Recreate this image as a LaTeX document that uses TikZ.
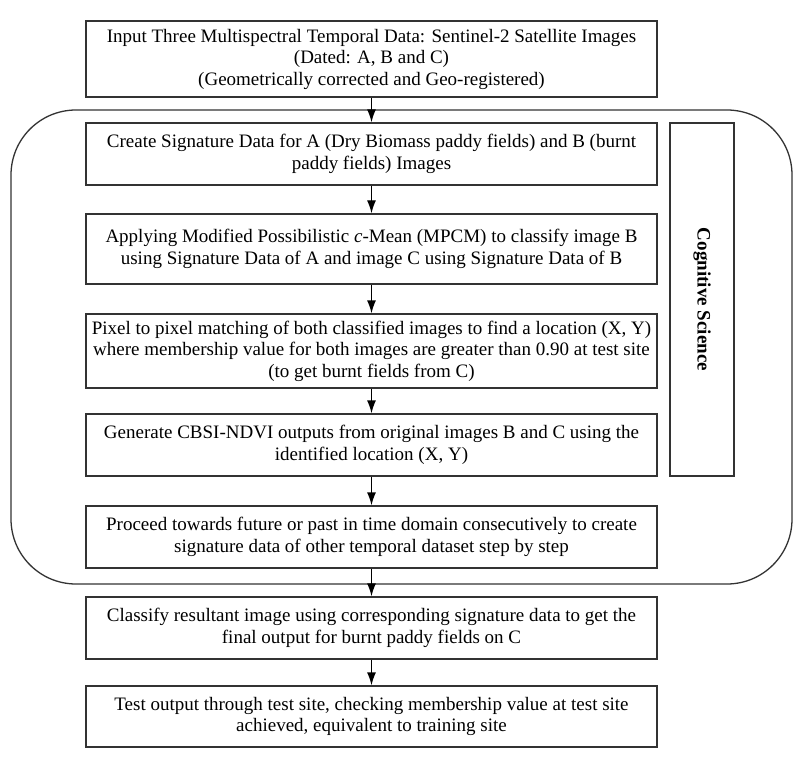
\documentclass[tikz,border=0pt]{standalone}
\usepackage{fontspec}
\setmainfont{Liberation Serif}
\usetikzlibrary{positioning}
\usetikzlibrary{arrows.meta,shapes}
\tikzstyle{stepbox}=[rectangle,draw=black!80,line width=1.3pt,minimum width=571pt,inner sep=0pt,align=center,font=\fontsize{19}{21.5}\selectfont]
\tikzstyle{sidebox}=[rectangle,draw=black!80,line width=1.3pt,minimum width=64pt,minimum height=353pt,inner sep=0pt]
\tikzstyle{edge} = [draw,line width=1.3pt,-{Latex[length=13pt,width=9pt]}]

\begin{document}
\begin{tikzpicture}[x=1pt,y=-1pt]
    \useasboundingbox (0,0) rectangle (800,767);
    % the rounded frame round the cognitive part
    \draw[draw=black!80, line width=1.3pt, rounded corners=65pt] (11,110) rectangle (792,584);

    % First we draw the steps
    \node[stepbox, minimum height=76pt] (input) at (371.5,59) {Input Three Multispectral Temporal Data: Sentinel-2 Satellite Images\\(Dated: A, B and C)\\(Geometrically corrected and Geo-registered)};
    \node[stepbox, minimum height=62pt] (signature) at (371.5,154) {Create Signature Data for A (Dry Biomass paddy fields) and B (burnt\\paddy fields) Images};
    \node[stepbox, minimum height=70pt] (mpcm) at (371.5,249) {Applying Modified Possibilistic \textit{c}-Mean (MPCM) to classify image B\\using Signature Data of A and image C using Signature Data of B};
    \node[stepbox, minimum height=74pt] (matching) at (371.5,351) {Pixel to pixel matching of both classified images to find a location (X, Y)\\where membership value for both images are greater than 0.90 at test site\\(to get burnt fields from C)};
    \node[stepbox, minimum height=62pt] (cbsi) at (371.5,445) {Generate CBSI-NDVI outputs from original images B and C using the\\identified location (X, Y)};
    \node[stepbox, minimum height=62pt] (proceed) at (371.5,537) {Proceed towards future or past in time domain consecutively to create\\signature data of other temporal dataset step by step};
    \node[stepbox, minimum height=62pt] (classify) at (371.5,628) {Classify resultant image using corresponding signature data to get the\\final output for burnt paddy fields on C};
    \node[stepbox, minimum height=61pt] (test) at (371.5,716.5) {Test output through test site, checking membership value at test site\\achieved, equivalent to training site};

    \node[sidebox] (cognitive) at (702,299.5) {};
    \node[rotate=-90, font=\fontsize{19}{21.5}\selectfont\bfseries] (cogtext) at (cognitive.center) {Cognitive Science};

    % Connect steps with arrows
    \foreach \source/ \dest in {input/signature, signature/mpcm, mpcm/matching, matching/cbsi, cbsi/proceed, proceed/classify, classify/test}
        \path[edge] (\source) -- (\dest);
\end{tikzpicture}
\end{document}
